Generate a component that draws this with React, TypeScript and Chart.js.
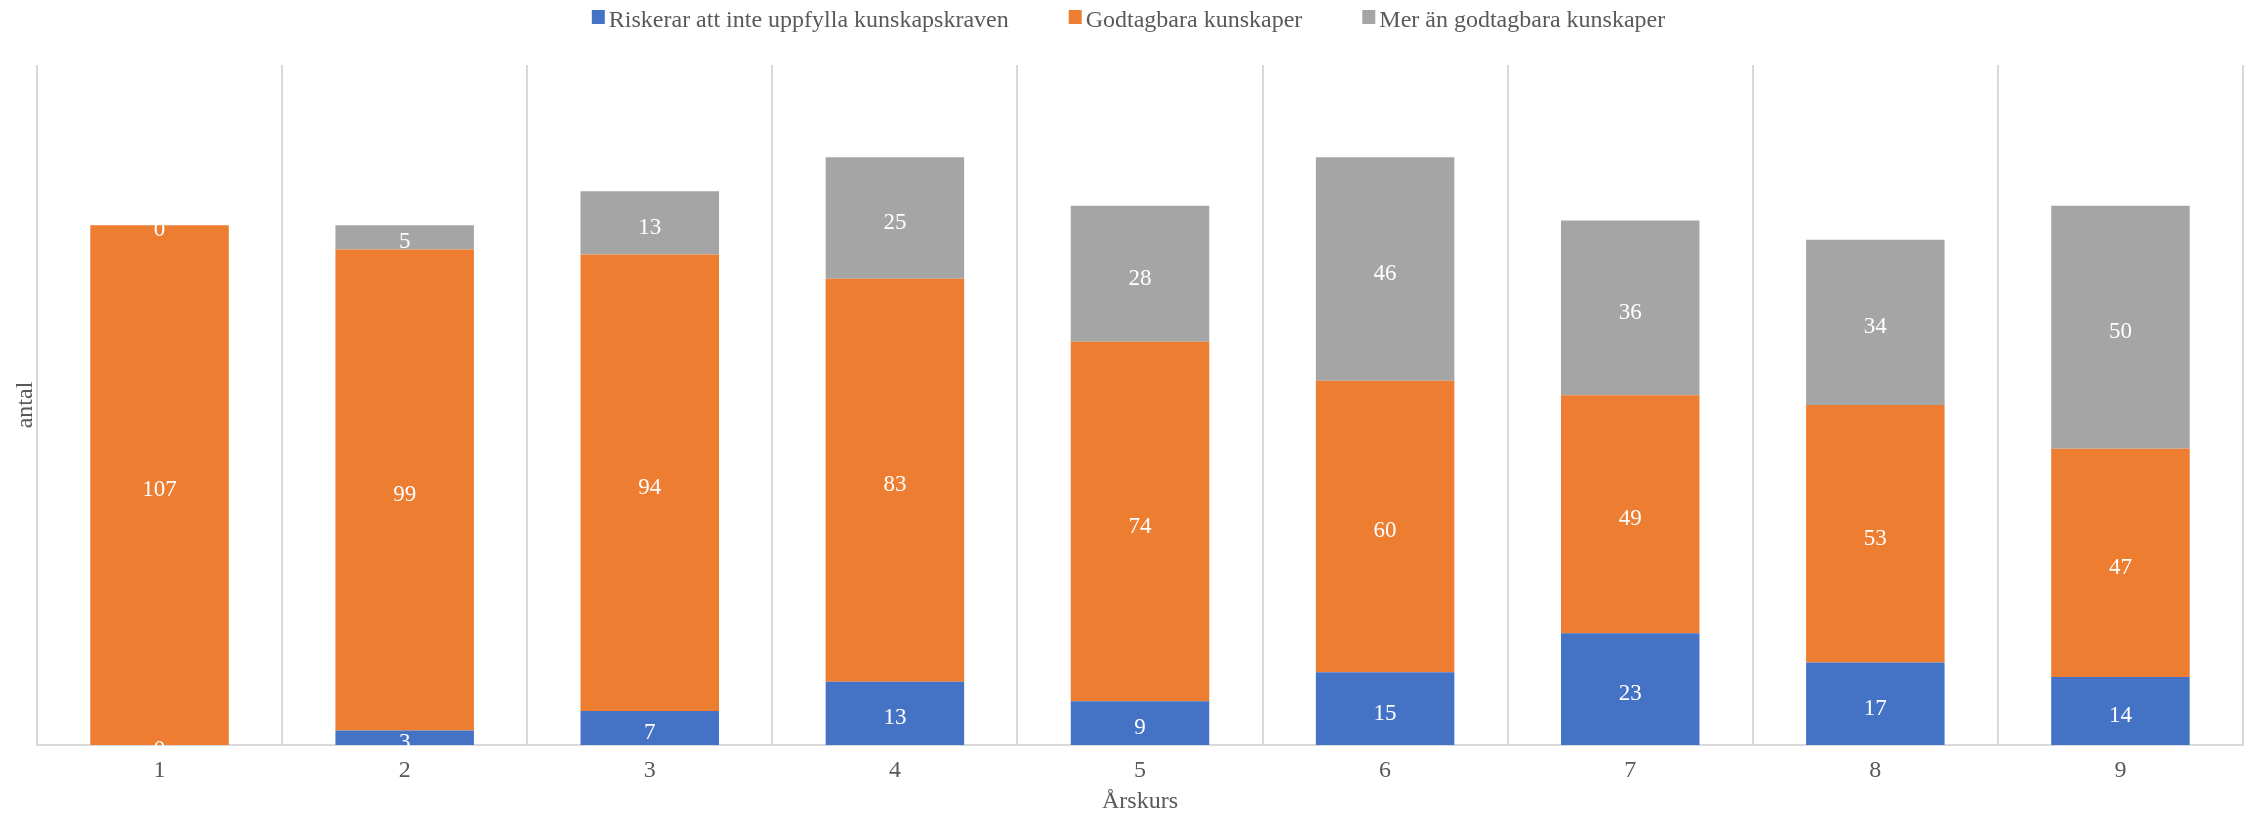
import React, { useEffect, useRef } from 'react';
import { Chart, registerables } from 'chart.js';

Chart.register(...registerables);

const categories = ['1', '2', '3', '4', '5', '6', '7', '8', '9'];
const seriesNames = [
  'Riskerar att inte uppfylla kunskapskraven',
  'Godtagbara kunskaper',
  'Mer än godtagbara kunskaper',
];
const riskerar = [0, 3, 7, 13, 9, 15, 23, 17, 14];
const godtagbara = [107, 99, 94, 83, 74, 60, 49, 53, 47];
const merAn = [0, 5, 13, 25, 28, 46, 36, 34, 50];
const seriesColors = ['#4472C4', '#ED7D31', '#A5A5A5'];
const yMax = 140;
const xTitle = 'Årskurs';
const yTitle = 'antal';

const FONT = '"Liberation Serif", "Times New Roman", serif';
const TEXT_COLOR = '#595959';

const segLabels = {
  id: 'segLabels',
  afterDatasetsDraw(chart: any) {
    const ctx = chart.ctx;
    ctx.save();
    ctx.font = `23px ${FONT}`;
    ctx.fillStyle = '#ffffff';
    ctx.textAlign = 'center';
    ctx.textBaseline = 'middle';
    chart.data.datasets.forEach((ds: any, i: number) => {
      const meta = chart.getDatasetMeta(i);
      meta.data.forEach((el: any, j: number) => {
        const p = el.getProps(['x', 'y', 'base'], true);
        ctx.fillText(String(ds.data[j]), p.x, (p.y + p.base) / 2 + 5);
      });
    });
    ctx.restore();
  },
};

const topLegend = {
  id: 'topLegend',
  afterDraw(chart: any) {
    const ctx = chart.ctx;
    ctx.save();
    ctx.font = `24px ${FONT}`;
    const box = 13;
    const gapText = 4;
    const gapItem = 60;
    const items = chart.data.datasets.map((ds: any) => ({
      text: ds.label,
      color: ds.backgroundColor,
      w: ctx.measureText(ds.label).width,
    }));
    const total =
      items.reduce((s: number, it: any) => s + box + gapText + it.w, 0) +
      gapItem * (items.length - 1);
    let x = (chart.width - total) / 2 + 4;
    ctx.textAlign = 'left';
    ctx.textBaseline = 'alphabetic';
    items.forEach((it: any) => {
      ctx.fillStyle = it.color;
      ctx.fillRect(x, 10, box, 14);
      ctx.fillStyle = TEXT_COLOR;
      ctx.fillText(it.text, x + box + gapText, 27);
      x += box + gapText + it.w + gapItem;
    });
    ctx.restore();
  },
};

export default function App() {
  const canvasRef = useRef<HTMLCanvasElement | null>(null);

  useEffect(() => {
    if (!canvasRef.current) return;
    const values = [riskerar, godtagbara, merAn];
    const chart = new Chart(canvasRef.current, {
      type: 'bar',
      data: {
        labels: categories,
        datasets: values.map((d, i) => ({
          label: seriesNames[i],
          data: d,
          backgroundColor: seriesColors[i],
          borderWidth: 0,
          barPercentage: 0.565,
          categoryPercentage: 1.0,
        })),
      },
      options: {
        responsive: false,
        animation: false,
        devicePixelRatio: 1,
        font: { family: FONT },
        layout: { padding: { top: 65, left: 0, right: 6, bottom: 0 } },
        plugins: {
          legend: { display: false },
          tooltip: { enabled: false },
        },
        scales: {
          x: {
            stacked: true,
            grid: { offset: true, color: '#d9d9d9', lineWidth: 2, drawTicks: false },
            border: { display: true, color: '#d9d9d9', width: 2 },
            ticks: { color: TEXT_COLOR, font: { family: FONT, size: 24 }, padding: 11 },
            title: {
              display: true,
              text: xTitle,
              color: TEXT_COLOR,
              font: { family: FONT, size: 24 },
              padding: { top: 0, bottom: -3 },
            },
            afterFit: (s: any) => {
              s.height = 68;
            },
          },
          y: {
            stacked: true,
            min: 0,
            max: yMax,
            grid: { display: false },
            border: { display: false },
            ticks: { display: false },
            title: {
              display: true,
              text: yTitle,
              color: TEXT_COLOR,
              font: { family: FONT, size: 24 },
              padding: { top: 11, bottom: 0 },
            },
            afterFit: (s: any) => {
              s.width = 37;
            },
          },
        },
      } as any,
      plugins: [segLabels, topLegend],
    });
    return () => chart.destroy();
  }, []);

  return (
    <div style={{ position: 'fixed', left: 0, top: 0, width: 2249, height: 813, background: '#fff' }}>
      <canvas ref={canvasRef} width={2249} height={813} />
    </div>
  );
}
